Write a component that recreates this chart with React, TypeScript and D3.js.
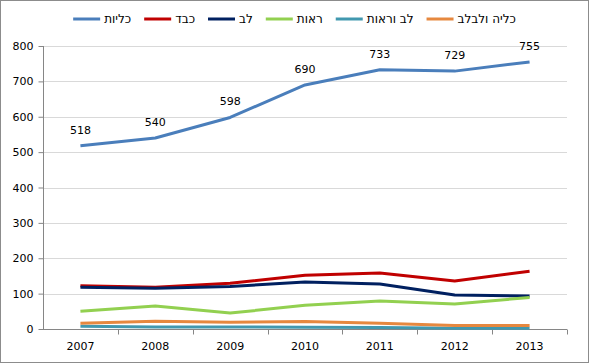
import * as d3 from "d3";
import { useEffect, useRef } from "react";

// years on the x axis
const years = ["2007", "2008", "2009", "2010", "2011", "2012", "2013"];

// one array per series
const kidney = [518, 540, 598, 690, 733, 729, 755];
const liver = [122, 118, 129, 152, 158, 136, 163];
const heart = [118, 115, 120, 133, 127, 96, 93];
const lungs = [50, 65, 45, 67, 79, 71, 89];
const heartLungs = [8, 6, 6, 5, 4, 2, 2];
const kidneyPancreas = [16, 22, 19, 21, 16, 10, 10];

const yTicks = [0, 100, 200, 300, 400, 500, 600, 700, 800];

const seriesList = [
  { name: "כליות", values: kidney, color: "#4A7EBB", labels: true },
  { name: "כבד", values: liver, color: "#C00000", labels: false },
  { name: "לב", values: heart, color: "#002060", labels: false },
  { name: "ראות", values: lungs, color: "#92D050", labels: false },
  { name: "לב וראות", values: heartLungs, color: "#4198AF", labels: false },
  { name: "כליה ולבלב", values: kidneyPancreas, color: "#E6883F", labels: false },
];

const W = 589;
const H = 363;
const FONT = "DejaVu Sans, Verdana, sans-serif";

const App = () => {
  const ref = useRef<HTMLDivElement>(null);

  useEffect(() => {
    // the page keeps the default 8px body margin, drop it
    document.body.style.margin = "0";
    d3.select(ref.current).select("svg").remove();

    const margin = { top: 46, right: 22, bottom: 34, left: 43 };
    const width = W - margin.left - margin.right;
    const height = H - margin.top - margin.bottom;

    const svg = d3
      .select(ref.current)
      .append("svg")
      .attr("width", W)
      .attr("height", H)
      .style("display", "block")
      .style("font-family", FONT);

    svg
      .append("rect")
      .attr("x", 0.5)
      .attr("y", 0.5)
      .attr("width", W - 1)
      .attr("height", H - 1)
      .attr("fill", "white")
      .attr("stroke", "#8c8c8c");

    const g = svg.append("g").attr("transform", `translate(${margin.left},${margin.top})`);

    const x = d3.scaleBand().domain(years).range([0, width]);
    const y = d3.scaleLinear().domain([0, 800]).range([height, 0]);

    // gridlines
    g.append("g")
      .selectAll("line")
      .data(yTicks.slice(1))
      .join("line")
      .attr("x1", 0)
      .attr("x2", width)
      .attr("y1", (d) => Math.round(y(d)) + 0.5)
      .attr("y2", (d) => Math.round(y(d)) + 0.5)
      .attr("stroke", "#d9d9d9");

    // y axis
    const yAxis = g
      .append("g")
      .attr("transform", "translate(0.5,0)")
      .call(d3.axisLeft(y).tickValues(yTicks).tickSize(5).tickPadding(5));
    yAxis.select(".domain").attr("stroke", "#868686").attr("d", `M0,${height}V0`);
    yAxis.selectAll(".tick line").attr("stroke", "#868686");
    yAxis.selectAll("text").attr("font-size", 11).attr("font-family", FONT).attr("fill", "#000");

    // x axis, ticks at category boundaries
    const xAxis = g.append("g").attr("transform", `translate(0,${Math.round(height) + 0.5})`);
    xAxis
      .append("line")
      .attr("x1", 0)
      .attr("x2", width)
      .attr("stroke", "#868686");
    xAxis
      .selectAll("line.tk")
      .data(years)
      .join("line")
      .attr("class", "tk")
      .attr("x1", (d) => Math.round(x(d)! + x.bandwidth()) + 0.5)
      .attr("x2", (d) => Math.round(x(d)! + x.bandwidth()) + 0.5)
      .attr("y1", 0)
      .attr("y2", 5)
      .attr("stroke", "#868686");
    xAxis
      .selectAll("text")
      .data(years)
      .join("text")
      .attr("x", (d) => x(d)! + x.bandwidth() / 2)
      .attr("y", 20)
      .attr("text-anchor", "middle")
      .attr("font-size", 11)
      .attr("fill", "#000")
      .text((d) => d);

    const line = d3
      .line<number>()
      .x((_, i) => x(years[i])! + x.bandwidth() / 2)
      .y((d) => y(d));

    seriesList.forEach((s) => {
      g.append("path")
        .datum(s.values)
        .attr("d", line)
        .attr("fill", "none")
        .attr("stroke", s.color)
        .attr("stroke-width", 3)
        .attr("stroke-linejoin", "round");
      if (s.labels) {
        g.append("g")
          .selectAll("text")
          .data(s.values)
          .join("text")
          .attr("x", (_, i) => x(years[i])! + x.bandwidth() / 2)
          .attr("y", (d) => y(d) - 12)
          .attr("text-anchor", "middle")
          .attr("font-size", 11)
          .attr("fill", "#000")
          .text((d) => d);
      }
    });

    // legend, laid out left to right and centred
    const legend = svg.append("g").attr("transform", "translate(0,19)");
    const items = legend
      .selectAll("g")
      .data(seriesList)
      .join("g");
    items
      .append("line")
      .attr("x1", 0)
      .attr("x2", 27)
      .attr("stroke", (d) => d.color)
      .attr("stroke-width", 3);
    items
      .append("text")
      .attr("x", 31)
      .attr("y", 4)
      .attr("font-size", 12)
      .attr("fill", "#000")
      .text((d) => d.name);

    let cx = 0;
    const offsets: number[] = [];
    items.each(function () {
      offsets.push(cx);
      const tw = (d3.select(this).select("text").node() as SVGTextElement).getComputedTextLength();
      cx += 31 + tw + 13;
    });
    const total = cx - 13;
    const start = (W - total) / 2;
    items.attr("transform", (_, i) => `translate(${start + offsets[i]},0)`);
  }, []);

  return <div ref={ref} />;
};

export default App;
